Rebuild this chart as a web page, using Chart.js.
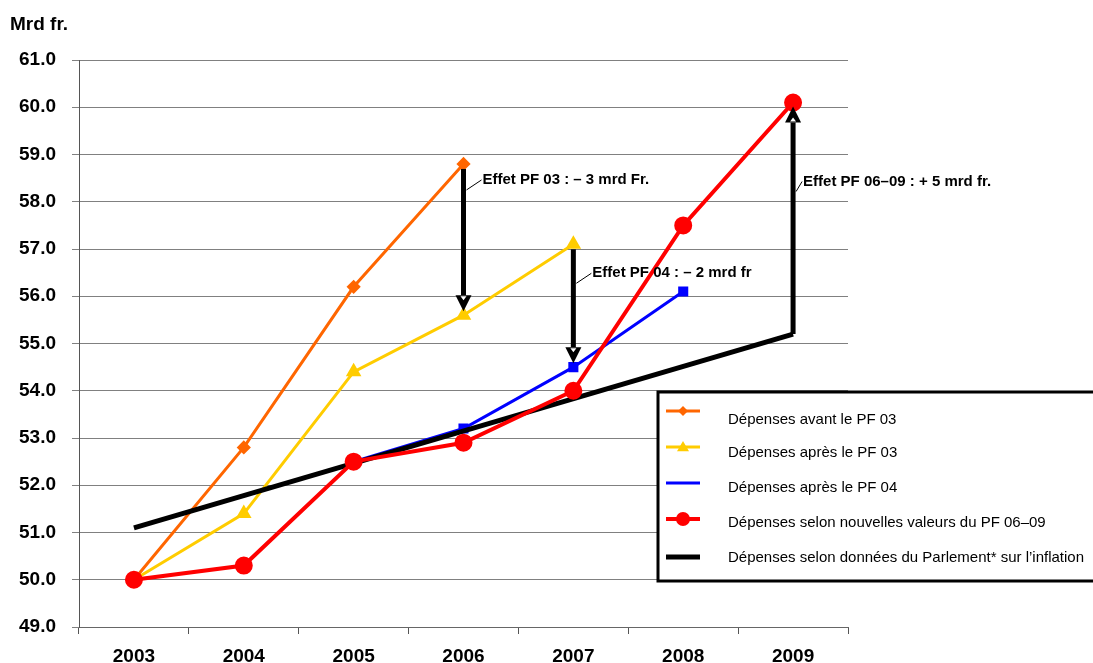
<!DOCTYPE html>
<html>
<head>
<meta charset="utf-8">
<script src="https://cdn.jsdelivr.net/npm/chart.js@4"></script>
<style>
  body { margin: 0; background: #fff; }
  #wrap { width: 1093px; height: 663px; position: relative; }
</style>
</head>
<body>
<div id="wrap"><canvas id="depChart"></canvas></div>
<script>
var years = ['2003', '2004', '2005', '2006', '2007', '2008', '2009'];
var avantPF03 = [50.0, 52.8, 56.2, 58.8, null, null, null];
var apresPF03 = [50.0, 51.4, 54.4, 55.6, 57.1, null, null];
var apresPF04 = [null, null, 52.5, 53.2, 54.5, 56.1, null];
var pf0609 = [50.0, 50.3, 52.5, 52.9, 54.0, 57.5, 60.1];
var parlement = [51.1, null, null, null, null, null, 55.2];
var legendLabels = [
    'Dépenses avant le PF 03',
    'Dépenses après le PF 03',
    'Dépenses après le PF 04',
    'Dépenses selon nouvelles valeurs du PF 06–09',
    'Dépenses selon données du Parlement* sur l’inflation'
];
// flèches : [année, de, à, texte]
var effets = [
    ['2006', 58.8, 55.6, 'Effet PF 03 : – 3 mrd Fr.'],
    ['2007', 57.1, 54.5, 'Effet PF 04 : – 2 mrd fr'],
    ['2009', 55.2, 60.1, 'Effet PF 06–09 : + 5 mrd fr.']
];

var FONT = '"Liberation Sans", Arial, sans-serif';

var annotPlugin = {
    id: 'annot',
    afterDatasetsDraw: function (chart) {
        var ctx = chart.ctx;
        var x = chart.scales.x, y = chart.scales.y;
        ctx.save();
        // Mrd fr.
        ctx.fillStyle = '#000';
        ctx.font = 'bold 19px ' + FONT;
        ctx.textBaseline = 'middle';
        ctx.textAlign = 'left';
        ctx.fillText('Mrd fr.', 10, 25);

        effets.forEach(function (e, i) {
            var px = x.getPixelForValue(years.indexOf(e[0]));
            var y0 = y.getPixelForValue(e[1]);
            var y1 = y.getPixelForValue(e[2]);
            var dir = y1 > y0 ? 1 : -1;
            var start = i === 2 ? y0 : y0 + dir * 5;
            var tip = y1 - dir * 4;
            var head = 16;
            ctx.strokeStyle = '#000';
            ctx.lineWidth = 5;
            ctx.beginPath();
            ctx.moveTo(px, start);
            ctx.lineTo(px, tip - dir * head);
            ctx.stroke();
            ctx.fillStyle = '#000';
            ctx.beginPath();
            ctx.moveTo(px - 8, tip - dir * head);
            ctx.lineTo(px + 8, tip - dir * head);
            ctx.lineTo(px, tip);
            ctx.closePath();
            ctx.fill();
            ctx.fillStyle = '#fff';
            ctx.beginPath();
            ctx.moveTo(px - 3, tip - dir * head + dir * 1);
            ctx.lineTo(px + 3, tip - dir * head + dir * 1);
            ctx.lineTo(px, tip - dir * head + dir * 5);
            ctx.closePath();
            ctx.fill();

            // libellé
            var ty = i === 0 ? y0 + 16 : (i === 1 ? y0 + 29 : y1 + 79);
            var tx = i === 2 ? px + 10 : px + 19;
            ctx.strokeStyle = '#000';
            ctx.lineWidth = 1;
            ctx.beginPath();
            ctx.moveTo(px + 3, ty + 10);
            ctx.lineTo(tx - 1, ty);
            ctx.stroke();
            ctx.fillStyle = '#000';
            ctx.font = 'bold 15px ' + FONT;
            ctx.textBaseline = 'middle';
            ctx.fillText(e[3], tx, ty);
        });

        // légende
        var bx = 658, by = 392, bw = 440, bh = 189;
        ctx.fillStyle = '#fff';
        ctx.fillRect(bx, by, bw, bh);
        ctx.strokeStyle = '#000';
        ctx.lineWidth = 3;
        ctx.strokeRect(bx, by, bw, bh);
        var rows = [411, 447, 483, 519, 557];
        var textRows = [420, 453, 488, 523, 558];
        chart.data.datasets.forEach(function (ds, k) {
            var ry = rows[k];
            ctx.strokeStyle = ds.borderColor;
            ctx.lineWidth = ds.borderWidth;
            ctx.beginPath();
            ctx.moveTo(666, ry);
            ctx.lineTo(700, ry);
            ctx.stroke();
            ctx.fillStyle = ds.backgroundColor;
            var r = ds.pointRadius;
            if (ds.pointStyle === 'rectRot') {
                ctx.beginPath();
                ctx.moveTo(683, ry - r); ctx.lineTo(683 + r, ry);
                ctx.lineTo(683, ry + r); ctx.lineTo(683 - r, ry);
                ctx.closePath(); ctx.fill();
            } else if (ds.pointStyle === 'triangle') {
                ctx.beginPath();
                ctx.moveTo(683, ry - r); ctx.lineTo(683 + r, ry + r * 0.7);
                ctx.lineTo(683 - r, ry + r * 0.7);
                ctx.closePath(); ctx.fill();
            } else if (ds.pointStyle === 'circle' && r > 0) {
                ctx.beginPath();
                ctx.arc(683, ry, r, 0, Math.PI * 2);
                ctx.fill();
            }
            ctx.fillStyle = '#000';
            ctx.font = '15px ' + FONT;
            ctx.textBaseline = 'middle';
            ctx.fillText(legendLabels[k], 728, textRows[k]);
        });
        ctx.restore();
    }
};

new Chart(document.getElementById('depChart').getContext('2d'), {
    type: 'line',
    data: {
        labels: years,
        datasets: [{
            label: legendLabels[0],
            data: avantPF03,
            borderColor: '#ff6600',
            backgroundColor: '#ff6600',
            borderWidth: 3,
            pointStyle: 'rectRot',
            pointRadius: 5,
            order: 4
        }, {
            label: legendLabels[1],
            data: apresPF03,
            borderColor: '#ffcc00',
            backgroundColor: '#ffcc00',
            borderWidth: 3,
            pointStyle: 'triangle',
            pointRadius: 6,
            order: 3
        }, {
            label: legendLabels[2],
            data: apresPF04,
            borderColor: '#0000ff',
            backgroundColor: '#0000ff',
            borderWidth: 3,
            pointStyle: 'rect',
            pointRadius: 5,
            order: 2
        }, {
            label: legendLabels[3],
            data: pf0609,
            borderColor: '#ff0000',
            backgroundColor: '#ff0000',
            borderWidth: 4,
            pointStyle: 'circle',
            pointRadius: 7,
            order: 0
        }, {
            label: legendLabels[4],
            data: parlement,
            borderColor: '#000000',
            backgroundColor: '#000000',
            borderWidth: 5,
            pointStyle: 'circle',
            pointRadius: 0,
            spanGaps: true,
            order: 1
        }]
    },
    options: {
        responsive: true,
        maintainAspectRatio: false,
        animation: false,
        layout: { padding: { left: 0, top: 60, right: 245, bottom: 0 } },
        elements: { line: { tension: 0 }, point: { borderWidth: 0, hoverRadius: 7 } },
        plugins: { legend: { display: false }, tooltip: { enabled: false } },
        scales: {
            x: {
                offset: true,
                grid: { offset: true, drawOnChartArea: false, color: '#555', tickLength: 7, lineWidth: 1 },
                border: { color: '#666', width: 1 },
                ticks: { color: '#000', font: { family: FONT, size: 19, weight: 'bold' }, padding: 11 },
                afterFit: function (s) { s.height = 36; }
            },
            y: {
                min: 49, max: 61,
                ticks: {
                    stepSize: 1, color: '#000', padding: 16,
                    font: { family: FONT, size: 19, weight: 'bold' },
                    callback: function (v) { return Number(v).toFixed(1); }
                },
                grid: { color: '#808080', tickLength: 7, lineWidth: 1 },
                border: { color: '#555', width: 1 },
                afterFit: function (s) { s.width = 79; }
            }
        }
    },
    plugins: [annotPlugin]
});
</script>
</body>
</html>
